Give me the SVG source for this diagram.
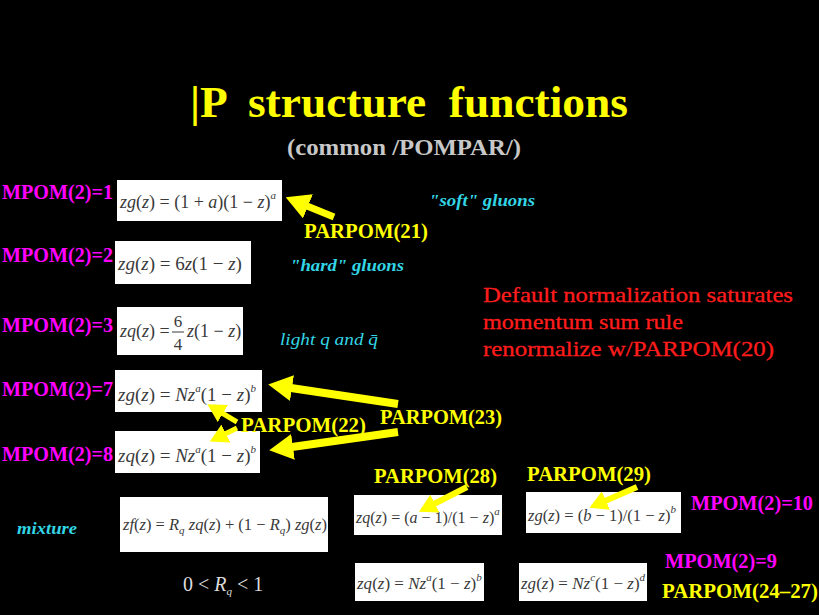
<svg xmlns="http://www.w3.org/2000/svg" width="819" height="615" viewBox="0 0 819 615">
<style>
text{font-family:'Liberation Serif','Times New Roman',serif}
.b{font-weight:bold}
.mp{fill:#ff00ff;font-size:20px}
.pp{fill:#ffff00;font-size:20px}
.cy{fill:#33d6e6;font-style:italic;font-size:17px}
.red{fill:#ff1c1c;font-size:21px;stroke:#ff1c1c;stroke-width:0.3}
.box{fill:#ffffff}
.f{fill:#3a3a3a}
.g{fill:#dcdcdc;font-size:20px}
.i{font-style:italic}
.s{font-style:italic;font-size:11px}
.arr{stroke:#ffff00;fill:none;stroke-linecap:butt}
</style>
<defs>
<marker id="hb" markerUnits="userSpaceOnUse" markerWidth="24" markerHeight="26" refX="1" refY="13" orient="auto">
<path d="M0,0 L24,13 L0,26 z" fill="#ffff00"/>
</marker>
<marker id="hs" markerUnits="userSpaceOnUse" markerWidth="18" markerHeight="20" refX="1" refY="10" orient="auto">
<path d="M0,0 L18,10 L0,20 z" fill="#ffff00"/>
</marker>
</defs>
<rect width="819" height="615" fill="#000000"/>

<g id="title">
<text class="b" x="190" y="117" fill="#ffff00" font-size="44" textLength="438" lengthAdjust="spacingAndGlyphs" xml:space="preserve">|P  structure  functions</text>
<text class="b" x="287" y="155" fill="#c8c8c8" font-size="24" textLength="234" lengthAdjust="spacingAndGlyphs">(common /POMPAR/)</text>
</g>

<g id="mpom1">
<text class="b mp" x="2" y="199" textLength="111" lengthAdjust="spacingAndGlyphs">MPOM(2)=1</text>
<rect class="box" x="117" y="180" width="165" height="41"/>
<text class="f" x="120" y="208" font-size="18"><tspan class="i">zg</tspan>(<tspan class="i">z</tspan>) = (1 + <tspan class="i">a</tspan>)(1 − <tspan class="i">z</tspan>)<tspan class="s" dy="-9">a</tspan></text>
</g>

<g id="mpom2">
<text class="b mp" x="2" y="262" textLength="111" lengthAdjust="spacingAndGlyphs">MPOM(2)=2</text>
<rect class="box" x="115" y="241" width="136" height="43"/>
<text class="f" x="118" y="270" font-size="19"><tspan class="i">zg</tspan>(<tspan class="i">z</tspan>) = 6<tspan class="i">z</tspan>(1 − <tspan class="i">z</tspan>)</text>
</g>

<g id="mpom3">
<text class="b mp" x="2" y="332" textLength="111" lengthAdjust="spacingAndGlyphs">MPOM(2)=3</text>
<rect class="box" x="117" y="307" width="126" height="48"/>
<text class="f" x="120" y="337" font-size="18"><tspan class="i">zq</tspan>(<tspan class="i">z</tspan>) =</text>
<text class="f" x="178" y="327" font-size="17" text-anchor="middle">6</text>
<line x1="172" y1="332" x2="184" y2="332" stroke="#3a3a3a" stroke-width="1"/>
<text class="f" x="178" y="350" font-size="17" text-anchor="middle">4</text>
<text class="f" x="187" y="337" font-size="18"><tspan class="i">z</tspan>(1 − <tspan class="i">z</tspan>)</text>
</g>

<g id="mpom7">
<text class="b mp" x="2" y="396" textLength="111" lengthAdjust="spacingAndGlyphs">MPOM(2)=7</text>
<rect class="box" x="115" y="370" width="147" height="42"/>
<text class="f" x="118" y="401" font-size="19"><tspan class="i">zg</tspan>(<tspan class="i">z</tspan>) = <tspan class="i">Nz</tspan><tspan class="s" dy="-9">a</tspan><tspan dy="9">(1 − </tspan><tspan class="i">z</tspan>)<tspan class="s" dy="-9">b</tspan></text>
</g>

<g id="mpom8">
<text class="b mp" x="2" y="461" textLength="111" lengthAdjust="spacingAndGlyphs">MPOM(2)=8</text>
<rect class="box" x="115" y="431" width="145" height="42"/>
<text class="f" x="118" y="462" font-size="19"><tspan class="i">zq</tspan>(<tspan class="i">z</tspan>) = <tspan class="i">Nz</tspan><tspan class="s" dy="-9">a</tspan><tspan dy="9">(1 − </tspan><tspan class="i">z</tspan>)<tspan class="s" dy="-9">b</tspan></text>
</g>

<g id="mixture">
<text class="b cy" x="17" y="534" textLength="60" lengthAdjust="spacingAndGlyphs">mixture</text>
<rect class="box" x="120" y="497" width="208" height="55"/>
<text class="f" x="123" y="530" font-size="16.5"><tspan class="i">zf</tspan>(<tspan class="i">z</tspan>) = <tspan class="i">R</tspan><tspan class="s" dy="4" font-size="10">q</tspan><tspan dy="-4"> </tspan><tspan class="i">zq</tspan>(<tspan class="i">z</tspan>) + (1 − <tspan class="i">R</tspan><tspan class="s" dy="4" font-size="10">q</tspan><tspan dy="-4">) </tspan><tspan class="i">zg</tspan>(<tspan class="i">z</tspan>)</text>
<text class="g" x="183" y="591">0 &lt; <tspan class="i">R</tspan><tspan class="s" dy="4">q</tspan><tspan dy="-4"> &lt; 1</tspan></text>
</g>

<g id="soft">
<text class="b cy" x="429" y="206" textLength="106" lengthAdjust="spacingAndGlyphs">"soft" gluons</text>
</g>
<g id="hard">
<text class="b cy" x="290" y="271" textLength="114" lengthAdjust="spacingAndGlyphs">"hard" gluons</text>
</g>
<g id="light">
<text class="cy" x="280" y="345" font-size="18" textLength="98" lengthAdjust="spacingAndGlyphs">light q and q̄</text>
</g>

<g id="note">
<text class="red" x="483" y="302" textLength="310" lengthAdjust="spacingAndGlyphs">Default normalization saturates</text>
<text class="red" x="483" y="329" textLength="200" lengthAdjust="spacingAndGlyphs">momentum sum rule</text>
<text class="red" x="483" y="356" textLength="291" lengthAdjust="spacingAndGlyphs">renormalize w/PARPOM(20)</text>
</g>

<g id="parpom21"><text class="b pp" x="304" y="238" textLength="124" lengthAdjust="spacingAndGlyphs">PARPOM(21)</text></g>
<g id="parpom22"><text class="b pp" x="241" y="432" textLength="125" lengthAdjust="spacingAndGlyphs">PARPOM(22)</text></g>
<g id="parpom23"><text class="b pp" x="380" y="424" textLength="122" lengthAdjust="spacingAndGlyphs">PARPOM(23)</text></g>
<g id="parpom28"><text class="b pp" x="374" y="483" textLength="123" lengthAdjust="spacingAndGlyphs">PARPOM(28)</text></g>
<g id="parpom29"><text class="b pp" x="527" y="481" textLength="124" lengthAdjust="spacingAndGlyphs">PARPOM(29)</text></g>

<g id="f28">
<rect class="box" x="354" y="495" width="148" height="40"/>
<text class="f" x="356" y="523" font-size="16"><tspan class="i">zq</tspan>(<tspan class="i">z</tspan>) = (<tspan class="i">a</tspan> − 1)/(1 − <tspan class="i">z</tspan>)<tspan class="s" dy="-8">a</tspan></text>
</g>
<g id="f29">
<rect class="box" x="526" y="492" width="155" height="41"/>
<text class="f" x="528" y="521" font-size="16.5"><tspan class="i">zg</tspan>(<tspan class="i">z</tspan>) = (<tspan class="i">b</tspan> − 1)/(1 − <tspan class="i">z</tspan>)<tspan class="s" dy="-8">b</tspan></text>
<text class="b mp" x="691" y="510" textLength="122" lengthAdjust="spacingAndGlyphs">MPOM(2)=10</text>
</g>
<g id="f9q">
<rect class="box" x="355" y="563" width="129" height="38"/>
<text class="f" x="357" y="589" font-size="17"><tspan class="i">zq</tspan>(<tspan class="i">z</tspan>) = <tspan class="i">Nz</tspan><tspan class="s" dy="-8">a</tspan><tspan dy="8">(1 − </tspan><tspan class="i">z</tspan>)<tspan class="s" dy="-8">b</tspan></text>
</g>
<g id="f9g">
<rect class="box" x="519" y="563" width="128" height="38"/>
<text class="f" x="521" y="589" font-size="17"><tspan class="i">zg</tspan>(<tspan class="i">z</tspan>) = <tspan class="i">Nz</tspan><tspan class="s" dy="-8">c</tspan><tspan dy="8">(1 − </tspan><tspan class="i">z</tspan>)<tspan class="s" dy="-8">d</tspan></text>
<text class="b mp" x="665" y="568" textLength="112" lengthAdjust="spacingAndGlyphs">MPOM(2)=9</text>
<text class="b pp" x="662" y="598" textLength="156" lengthAdjust="spacingAndGlyphs">PARPOM(24–27)</text>
</g>

<g id="connectors">
<line class="arr" x1="334" y1="217" x2="307" y2="206" stroke-width="7" marker-end="url(#hb)"/>
<line class="arr" x1="398" y1="404" x2="291" y2="388" stroke-width="8" marker-end="url(#hb)"/>
<line class="arr" x1="398" y1="432" x2="292" y2="447" stroke-width="8" marker-end="url(#hb)"/>
<line class="arr" x1="237" y1="422" x2="222" y2="413" stroke-width="5" marker-end="url(#hs)"/>
<line class="arr" x1="237" y1="428" x2="225" y2="434" stroke-width="5" marker-end="url(#hs)"/>
<line class="arr" x1="467" y1="487" x2="434" y2="504" stroke-width="6" marker-end="url(#hs)"/>
<line class="arr" x1="637" y1="487" x2="605" y2="501" stroke-width="6" marker-end="url(#hs)"/>
</g>
</svg>
